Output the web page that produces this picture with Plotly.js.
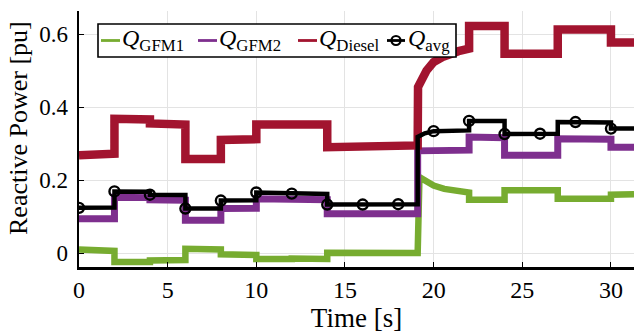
<!DOCTYPE html>
<html>
<head>
<meta charset="utf-8">
<script src="https://cdn.plot.ly/plotly-3.0.1.min.js"></script>
<style>html,body{margin:0;padding:0;background:#fff;}#chart{width:636px;height:333px;}</style>
</head>
<body>
<div id="chart"></div>
<script>
// ---- Data ----
var tGFM1 = [0, 2, 2, 4, 4, 6, 6, 8, 8, 10, 10, 12, 12, 14, 14, 19, 19.1, 19.2, 19.6, 20.0, 20.6, 21.9, 22, 22, 24, 24, 27, 27, 30, 30, 31.3];
var qGFM1 = [0.010, 0.006, -0.024, -0.024, -0.020, -0.019, 0.012, 0.010, -0.003, -0.005, -0.016, -0.016, -0.015, -0.016, 0.001, 0.000, 0.000, 0.208, 0.195, 0.185, 0.176, 0.166, 0.166, 0.146, 0.146, 0.172, 0.172, 0.149, 0.149, 0.160, 0.161];

var tGFM2 = [0, 2, 2, 4, 4, 6, 6, 8, 8, 10, 10, 12, 12, 14, 14, 19.1, 19.1, 22, 22, 24, 24, 27, 27, 30, 30, 31.3];
var qGFM2 = [0.094, 0.094, 0.153, 0.152, 0.146, 0.145, 0.090, 0.090, 0.122, 0.123, 0.149, 0.148, 0.146, 0.146, 0.108, 0.108, 0.280, 0.282, 0.318, 0.316, 0.268, 0.268, 0.313, 0.312, 0.290, 0.290];

var tDiesel = [0, 2, 2, 4, 4, 6, 6, 8, 8, 10, 10, 12, 12, 14, 14, 19.1, 19.12, 19.3, 19.6, 20.0, 20.5, 21.4, 22, 22, 24, 24, 27, 27, 30, 30, 31.3];
var qDiesel = [0.268, 0.272, 0.368, 0.366, 0.355, 0.352, 0.258, 0.258, 0.310, 0.312, 0.352, 0.354, 0.355, 0.352, 0.290, 0.295, 0.455, 0.475, 0.500, 0.523, 0.537, 0.553, 0.560, 0.622, 0.622, 0.546, 0.546, 0.612, 0.612, 0.577, 0.577];

var tAvg = [0, 2, 2, 4, 4, 6, 6, 8, 8, 10, 10, 12, 12, 14, 14, 16, 18, 19.1, 19.1, 19.5, 20, 22, 22, 24, 24, 26, 27, 27, 28, 30, 30, 31.3];
var qAvg = [0.124, 0.125, 0.169, 0.168, 0.160, 0.159, 0.122, 0.122, 0.144, 0.145, 0.166, 0.165, 0.163, 0.162, 0.133, 0.133, 0.134, 0.134, 0.318, 0.328, 0.334, 0.336, 0.362, 0.362, 0.326, 0.327, 0.327, 0.359, 0.359, 0.358, 0.341, 0.341];

var seriesNames = ['<i>Q</i><sub>GFM1</sub>', '<i>Q</i><sub>GFM2</sub>', '<i>Q</i><sub>Diesel</sub>', '<i>Q</i><sub>avg</sub>'];
var xTicks = [0, 5, 10, 15, 20, 25, 30];
var xTickText = ['0', '5', '10', '15', '20', '25', '30'];
var yTicks = [0, 0.2, 0.4, 0.6];
var yTickText = ['0', '0.2', '0.4', '0.6'];
var xTitle = 'Time [s]';
var yTitle = 'Reactive Power [pu]';

// ---- Styling ----
var cGreen = '#77AC30', cPurple = '#7E2F8E', cRed = '#A2142F', cBlack = '#000000';
var colors = [cGreen, cPurple, cRed, cBlack];
var FONT = 'Liberation Serif';

// plot-area geometry in pixels (for the hand-placed legend)
var W = 636, H = 333, ML = 79, MR = 2, MT = 11, MB = 66;
var PW = W - ML - MR, PH = H - MT - MB;
function px2x(p) { return (p - ML) / PW; }
function py2y(p) { return (H - MB - p) / PH; }

// marker points of the average: every 2 s (post-step value)
var mX = [], mY = [];
for (var i = 0; i < tAvg.length; i++) {
  var t = tAvg[i];
  if (Math.abs(t / 2 - Math.round(t / 2)) < 1e-9 && (i === tAvg.length - 1 || tAvg[i + 1] !== t)) {
    mX.push(t); mY.push(qAvg[i]);
  }
}

var traces = [
  {x: tGFM1, y: qGFM1, name: seriesNames[0], mode: 'lines', line: {color: cGreen, width: 6.5}, hoverinfo: 'skip'},
  {x: tGFM2, y: qGFM2, name: seriesNames[1], mode: 'lines', line: {color: cPurple, width: 7}, hoverinfo: 'skip'},
  {x: tDiesel, y: qDiesel, name: seriesNames[2], mode: 'lines', line: {color: cRed, width: 8.5}, hoverinfo: 'skip'},
  {x: tAvg, y: qAvg, name: seriesNames[3], mode: 'lines', line: {color: cBlack, width: 4.5}, hoverinfo: 'skip'},
  {x: mX, y: mY, mode: 'markers', marker: {symbol: 'circle-open', size: 10, color: cBlack, line: {width: 2.4, color: cBlack}}, showlegend: false, hoverinfo: 'skip'}
];

// ---- Hand-placed legend (box, line samples, labels) ----
var legBox = {x0: 98, x1: 456, y0: 24, y1: 57};
var legRowY = 40.5;
var legLineX = [[101, 120], [198, 217], [298, 317], [387, 405]];
var legTextX = [121, 218, 318, 407];

var shapes = [{
  type: 'rect', xref: 'paper', yref: 'paper', layer: 'above',
  x0: px2x(legBox.x0), x1: px2x(legBox.x1), y0: py2y(legBox.y1), y1: py2y(legBox.y0),
  fillcolor: '#ffffff', line: {color: '#000', width: 1.6}
}];
var annotations = [];
for (var k = 0; k < 4; k++) {
  shapes.push({type: 'line', xref: 'paper', yref: 'paper', layer: 'above',
    x0: px2x(legLineX[k][0]), x1: px2x(legLineX[k][1]), y0: py2y(legRowY), y1: py2y(legRowY),
    line: {color: colors[k], width: 2.8}});
  annotations.push({xref: 'paper', yref: 'paper', x: px2x(legTextX[k]), y: py2y(legRowY - 1),
    xanchor: 'left', yanchor: 'middle', showarrow: false, borderpad: 0,
    text: seriesNames[k], font: {family: FONT, size: 24, color: '#000'}});
}
var cx = px2x((legLineX[3][0] + legLineX[3][1]) / 2), cy = py2y(legRowY);
shapes.push({type: 'circle', xref: 'paper', yref: 'paper', layer: 'above',
  xsizemode: 'pixel', ysizemode: 'pixel', xanchor: cx, yanchor: cy,
  x0: -4.5, x1: 4.5, y0: -4.5, y1: 4.5, line: {color: '#000', width: 2.2}});

// y-axis title as rotated annotation
annotations.push({xref: 'paper', yref: 'paper', x: px2x(18), y: py2y(128),
  xanchor: 'center', yanchor: 'middle', textangle: -90, showarrow: false,
  text: yTitle, font: {family: FONT, size: 26, color: '#000'}});

var layout = {
  width: W, height: H,
  margin: {l: ML, r: MR, t: MT, b: MB},
  paper_bgcolor: '#ffffff', plot_bgcolor: '#ffffff',
  font: {family: FONT, color: '#000', size: 24},
  showlegend: false,
  shapes: shapes,
  annotations: annotations,
  xaxis: {
    range: [0, 31.3], tickmode: 'array', tickvals: xTicks, ticktext: xTickText,
    ticks: 'inside', ticklen: 5, tickwidth: 1, tickcolor: '#000',
    showline: true, linecolor: '#000', linewidth: 2.5, mirror: false,
    showgrid: true, gridcolor: '#e3e3e3', gridwidth: 1, zeroline: false,
    tickfont: {family: FONT, size: 24, color: '#000'}, ticklabelstandoff: 0,
    title: {text: xTitle, font: {family: FONT, size: 27, color: '#000'}, standoff: 2}
  },
  yaxis: {
    range: [-0.038, 0.663], tickmode: 'array', tickvals: yTicks, ticktext: yTickText,
    ticks: 'inside', ticklen: 5, tickwidth: 1, tickcolor: '#000',
    showline: true, linecolor: '#000', linewidth: 2.5, mirror: false,
    showgrid: true, gridcolor: '#e3e3e3', gridwidth: 1, zeroline: false,
    tickfont: {family: FONT, size: 23, color: '#000'}, ticklabelstandoff: 4
  }
};

Plotly.newPlot('chart', traces, layout, {staticPlot: true, displayModeBar: false});
</script>
</body>
</html>
